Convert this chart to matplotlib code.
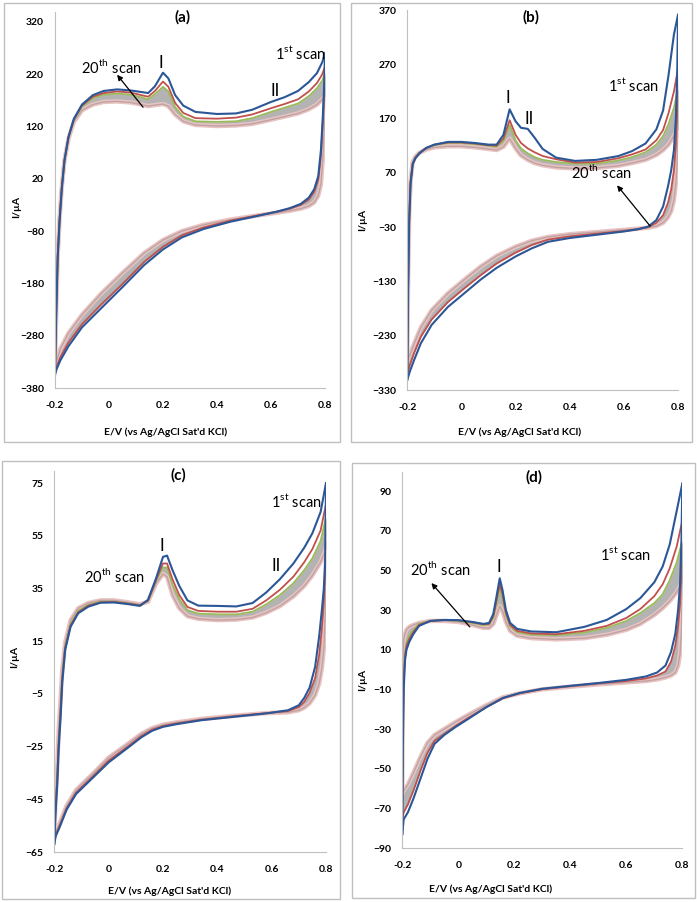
import matplotlib
matplotlib.use("Agg")
import matplotlib.pyplot as plt
from matplotlib.patches import Rectangle

plt.rcParams['font.family'] = ['Lato', 'DejaVu Sans']
plt.rcParams['mathtext.fontset'] = 'custom'
plt.rcParams['mathtext.rm'] = 'Lato'

# ---------------- panel (a) ----------------
E_fwd_a = [-0.2, -0.195, -0.19, -0.183, -0.175, -0.165, -0.15, -0.13, -0.1, -0.06, -0.02, 0.03, 0.08, 0.12,
           0.145, 0.17, 0.2, 0.22, 0.245, 0.275, 0.32, 0.4, 0.47, 0.53, 0.6, 0.65, 0.7, 0.74, 0.77, 0.79, 0.8]
a_fwd_1 = [-355, -230, -130, -60, 0, 55, 100, 135, 162, 180, 188, 191, 189, 186,
           184, 197, 223, 212, 180, 160, 148, 144, 145, 152, 167, 176, 188, 205, 222, 243, 260]
a_fwd_2 = [-350, -227, -128, -58, 2, 55, 100, 134, 160, 177, 184, 187, 185, 180,
           177, 188, 206, 196, 165, 146, 136, 135, 137, 143, 155, 163, 172, 187, 203, 220, 235]
a_fwd_3 = [-348, -225, -127, -57, 3, 55, 99, 133, 158, 174, 181, 183, 181, 176,
           172, 182, 196, 187, 157, 139, 130, 129, 130, 136, 148, 156, 164, 178, 193, 208, 222]
a_fwd_20 = [-345, -222, -125, -55, 4, 55, 97, 129, 151, 162, 167, 168, 166, 162,
            159, 161, 163, 159, 143, 130, 123, 121, 122, 125, 133, 139, 145, 153, 162, 172, 178]
E_rev_a = [0.8, 0.797, 0.792, 0.785, 0.775, 0.76, 0.74, 0.71, 0.67, 0.62, 0.55, 0.45, 0.35, 0.27,
           0.2, 0.13, 0.05, -0.03, -0.1, -0.15, -0.18, -0.195, -0.2]
a_rev_1 = [260, 200, 140, 75, 25, 0, -16, -28, -36, -43, -51, -62, -76, -92,
           -115, -145, -187, -228, -264, -300, -327, -345, -355]
a_rev_2 = [235, 185, 130, 65, 18, -5, -20, -30, -37, -43, -50, -60, -73, -88,
           -110, -139, -181, -221, -258, -293, -321, -340, -350]
a_rev_20 = [178, 120, 60, 10, -12, -25, -32, -37, -41, -45, -50, -58, -68, -80,
            -97, -122, -160, -200, -240, -275, -305, -330, -345]

# ---------------- panel (b) ----------------
E_fwd_b = [-0.2, -0.197, -0.193, -0.188, -0.18, -0.17, -0.155, -0.13, -0.1, -0.05, 0.0, 0.05, 0.1, 0.13,
           0.155, 0.178, 0.2, 0.22, 0.245, 0.27, 0.3, 0.35, 0.42, 0.5, 0.58, 0.63, 0.68, 0.72, 0.745,
           0.765, 0.785, 0.8]
b_fwd_1 = [-311, -150, -20, 50, 86, 97, 106, 116, 122, 127, 127, 125, 122, 122,
           140, 187, 165, 153, 151, 135, 114, 98, 92, 94, 101, 110, 124, 150, 185, 250, 325, 361]
b_fwd_2 = [-300, -140, -15, 52, 87, 98, 107, 116, 122, 126, 126, 124, 121, 120,
           133, 167, 140, 125, 115, 108, 101, 95, 89, 90, 97, 104, 113, 130, 149, 180, 220, 262]
b_fwd_3 = [-295, -135, -12, 53, 88, 99, 107, 116, 121, 125, 125, 123, 120, 118,
           128, 158, 130, 115, 106, 99, 94, 90, 87, 87, 93, 99, 108, 122, 138, 160, 190, 225]
b_fwd_20 = [-275, -120, -5, 55, 90, 100, 107, 113, 117, 119, 119, 117, 114, 112,
            118, 133, 115, 102, 94, 88, 84, 80, 78, 79, 83, 88, 94, 103, 112, 122, 138, 150]
E_rev_b = [0.8, 0.797, 0.792, 0.785, 0.775, 0.763, 0.745, 0.72, 0.69, 0.65, 0.6, 0.5, 0.4, 0.32,
           0.26, 0.2, 0.13, 0.07, 0.01, -0.05, -0.11, -0.15, -0.175, -0.19, -0.2]
b_rev_1 = [361, 250, 170, 112, 75, 45, 8, -17, -29, -34, -38, -44, -50, -57,
           -69, -84, -105, -127, -152, -177, -210, -244, -275, -295, -311]
b_rev_2 = [262, 180, 120, 75, 40, 15, -8, -22, -30, -34, -37, -42, -47, -53,
           -63, -77, -97, -119, -143, -168, -200, -232, -262, -283, -300]
b_rev_20 = [150, 90, 50, 20, 0, -12, -22, -28, -31, -33, -35, -39, -43, -48,
            -55, -66, -83, -103, -127, -152, -183, -215, -245, -265, -275]

# ---------------- panel (c) ----------------
E_fwd_c = [-0.2, -0.196, -0.189, -0.184, -0.177, -0.171, -0.16, -0.14, -0.112, -0.075, -0.03, 0.02, 0.07,
           0.115, 0.145, 0.175, 0.2, 0.215, 0.235, 0.26, 0.29, 0.33, 0.4, 0.47, 0.53, 0.58, 0.63, 0.68,
           0.72, 0.75, 0.78, 0.8]
c_fwd_1 = [-62, -51, -39, -26, -14, -1, 11.7, 20.5, 25.6, 28.1, 29.6, 29.7, 29.1,
           28.4, 30.7, 39, 47, 47.5, 42, 36, 30.5, 28.5, 28.4, 28.2, 29.5, 33.5, 38.5, 44.5,
           50.5, 56, 64, 75]
c_fwd_2 = [-61, -50, -37, -24, -12, 0.5, 12.5, 21, 26, 28.5, 29.8, 29.9, 29.3,
           28.6, 30.5, 38.5, 44.5, 44.5, 38.5, 32.5, 28, 26.5, 26.2, 26.2, 27.3, 30.5, 34.5, 39.5,
           45, 50, 57, 67]
c_fwd_3 = [-60.5, -49, -36, -23, -11, 1.5, 13, 21.5, 26.5, 28.8, 30, 30, 29.4,
           28.7, 30.3, 38, 43, 43, 36.5, 31, 26.8, 25.5, 25.2, 25.2, 26.2, 29, 32.5, 37,
           42, 46.5, 53, 62]
c_fwd_20 = [-59, -46, -32, -19, -7, 4, 14.5, 23, 27.5, 29.5, 30.5, 30.5, 29.8,
            29, 30, 37, 40.5, 39.5, 32.5, 27.5, 24.5, 23.5, 23, 23.2, 24, 25.8, 28.3, 32,
            36, 40, 45, 50]
E_rev_c = [0.8, 0.797, 0.792, 0.785, 0.775, 0.76, 0.74, 0.72, 0.7, 0.66, 0.58, 0.46, 0.34, 0.25,
           0.2, 0.16, 0.12, 0.07, 0.0, -0.06, -0.12, -0.155, -0.18, -0.195, -0.2]
c_rev_1 = [75, 45, 35, 27, 17, 5.3, -2.5, -6.5, -9.3, -11.2, -12.4, -13.7, -15, -16.5,
           -17.5, -19, -21.5, -25.5, -31, -37, -43, -49, -55.5, -59, -62]
c_rev_2 = [67, 42, 30, 20, 10, 1, -4.5, -8, -10, -11.5, -12.3, -13.5, -14.8, -16.2,
           -17.2, -18.6, -21, -25, -30.3, -36.5, -42.5, -48.5, -55, -58.5, -61]
c_rev_20 = [50, 25, 12, 5, -1, -5.5, -8.5, -10.2, -11.2, -12, -12.3, -13.3, -14.5, -15.8,
            -16.7, -18, -20.2, -24, -29.2, -35.5, -41.5, -47.5, -54, -57.5, -59]

# ---------------- panel (d) ----------------
E_fwd_d = [-0.2, -0.198, -0.195, -0.19, -0.185, -0.175, -0.16, -0.14, -0.1, -0.05, 0.0, 0.05, 0.09, 0.11,
           0.125, 0.138, 0.148, 0.158, 0.17, 0.185, 0.21, 0.26, 0.35, 0.45, 0.53, 0.6, 0.65, 0.7,
           0.73, 0.755, 0.78, 0.8]
d_fwd_1 = [-83, -40, -10, 5, 10, 14, 18, 22, 24.5, 25, 24.9, 24, 23, 23.5,
           28, 38, 46, 40, 30, 23.5, 20.5, 19.2, 18.8, 21.5, 25, 30.5, 36, 44,
           52, 63, 80, 93.7]
d_fwd_2 = [-75, -30, -5, 7, 12, 15.5, 19, 22.5, 24.5, 25, 24.8, 23.8, 22.8, 23,
           27, 36, 43, 38, 28.5, 22.5, 19.5, 18.2, 17.8, 19.5, 22, 26, 30.5, 37,
           43, 51, 62, 75]
d_fwd_3 = [-70, -25, -2, 9, 13.5, 17, 20, 23, 24.5, 25, 24.6, 23.5, 22.4, 22.6,
           26, 34, 41, 36, 27.5, 21.8, 18.8, 17.6, 17.3, 18.6, 21, 24.5, 28.5, 33.5,
           38, 45, 54, 65]
d_fwd_20 = [-62, 5, 15, 18, 20, 21.5, 22.5, 23.5, 24.5, 24.5, 24, 22.5, 21, 21,
            23, 28, 32, 29.5, 24, 19.5, 17, 15.8, 15.2, 15.8, 17.5, 20, 23, 27.5,
            31, 34.5, 39, 44]
E_rev_d = [0.8, 0.797, 0.792, 0.785, 0.775, 0.76, 0.74, 0.71, 0.67, 0.6, 0.5, 0.4, 0.3, 0.22,
           0.16, 0.1, 0.04, -0.01, -0.05, -0.085, -0.11, -0.135, -0.16, -0.18, -0.195, -0.2]
d_rev_1 = [93.7, 65, 43, 30, 18, 9, 2, -1.5, -3.5, -5.2, -6.8, -8.2, -9.7, -11.8,
           -14.3, -19, -24.5, -29, -33, -37.5, -45, -55, -65, -72, -75.5, -83]
d_rev_2 = [75, 50, 33, 22, 12, 4, -1, -3, -4.5, -5.8, -7, -8.4, -9.9, -12,
           -14.5, -19, -24, -28.5, -32.5, -36, -42, -51, -61, -68, -72, -75]
d_rev_20 = [44, 20, 8, 2, -1.5, -3, -4, -5, -5.8, -6.5, -7.5, -8.7, -10, -12,
            -14, -18, -22.5, -26.5, -30, -33, -37, -44, -52, -58, -61, -62]

x_ticks = [-0.2, 0, 0.2, 0.4, 0.6, 0.8]
x_tick_labels = ['-0.2', '0', '0.2', '0.4', '0.6', '0.8']
y_ticks_a = [-380, -280, -180, -80, 20, 120, 220, 320]
y_ticks_b = [-330, -230, -130, -30, 70, 170, 270, 370]
y_ticks_c = [-65, -45, -25, -5, 15, 35, 55, 75]
y_ticks_d = [-90, -70, -50, -30, -10, 10, 30, 50, 70, 90]

W, H = 697, 902
fig = plt.figure(figsize=(W / 100, H / 100), dpi=100)


def fx(x):
    return x / W


def fy(y):
    return 1 - y / H


def panel(left, right, top, bottom, ylim, yticks,
          E_f, f1, f2, f3, f20, E_r, r1, r2, r20):
    ax = fig.add_axes([fx(left), fy(bottom), (right - left) / W, (bottom - top) / H])
    band = '#b3b3b3'
    ax.fill_between(E_f, f3, f20, color=band, lw=0)
    ax.fill_between(E_r, r2, r20, color=band, lw=0)
    for E, I in [(E_f, f20), (E_r, r20)]:
        ax.plot(E, I, color='#e8c3c2', lw=3.2, solid_joinstyle='round')
        ax.plot(E, I, color='#bfa3a3', lw=1.0)
    ax.plot(E_f, f3, color='#9bbb59', lw=1.3)
    ax.plot(E_f, f2, color='#c0504d', lw=1.3)
    ax.plot(E_r, r2, color='#c0504d', lw=1.3)
    ax.plot(E_f, f1, color='#2b5797', lw=1.5)
    ax.plot(E_r, r1, color='#2b5797', lw=1.5)
    ax.set_xlim(-0.2, 0.8)
    ax.set_ylim(*ylim)
    ax.set_xticks(x_ticks)
    ax.set_xticklabels(x_tick_labels)
    ax.set_yticks(yticks)
    for s in ['top', 'right']:
        ax.spines[s].set_visible(False)
    for s in ['left', 'bottom']:
        ax.spines[s].set_color('#bfbfbf')
        ax.spines[s].set_linewidth(0.8)
    ax.tick_params(axis='y', length=0, pad=8, labelsize=7.5)
    ax.tick_params(axis='x', length=0, pad=9, labelsize=7.5)
    for lab in ax.get_xticklabels() + ax.get_yticklabels():
        lab.set_fontweight('bold')
    return ax


def frame(x0, y0, x1, y1):
    fig.patches.append(Rectangle((fx(x0), fy(y1)), (x1 - x0) / W, (y1 - y0) / H,
                                 transform=fig.transFigure, fill=False,
                                 edgecolor='#bfbfbf', lw=1.0))


frame(4, 3, 340, 442)
frame(351, 3, 692, 442)
frame(2, 461, 340, 899)
frame(352, 463, 695, 898)

axa = panel(55, 325, 12, 388, (-380, 339), y_ticks_a,
            E_fwd_a, a_fwd_1, a_fwd_2, a_fwd_3, a_fwd_20, E_rev_a, a_rev_1, a_rev_2, a_rev_20)
axb = panel(407.3, 678, 10, 390, (-330, 370), y_ticks_b,
            E_fwd_b, b_fwd_1, b_fwd_2, b_fwd_3, b_fwd_20, E_rev_b, b_rev_1, b_rev_2, b_rev_20)
axc = panel(54.3, 326, 471, 852, (-65, 79.6), y_ticks_c,
            E_fwd_c, c_fwd_1, c_fwd_2, c_fwd_3, c_fwd_20, E_rev_c, c_rev_1, c_rev_2, c_rev_20)
axd = panel(402.3, 682.3, 472, 848, (-90, 99.6), y_ticks_d,
            E_fwd_d, d_fwd_1, d_fwd_2, d_fwd_3, d_fwd_20, E_rev_d, d_rev_1, d_rev_2, d_rev_20)

xlab = "E/V (vs Ag/AgCl Sat'd KCl)"
for (tx, ty), (lx, ly), (yx, yy), name in [((183, 17), (166, 432), (17, 207), '(a)'),
                                            ((531, 17), (520, 432), (363, 220), '(b)'),
                                            ((178, 475), (170, 891), (15, 657), '(c)'),
                                            ((534, 477), (491, 889), (363, 680), '(d)')]:
    fig.text(fx(tx), fy(ty), name, ha='center', va='center', fontsize=11, fontweight='bold')
    fig.text(fx(lx), fy(ly), xlab, ha='center', va='center', fontsize=7.5, fontweight='bold')
    fig.text(fx(yx), fy(yy), 'I/µA', ha='center', va='center', rotation=90,
             fontsize=7.5, fontweight='bold')

s20 = r'20$^{\mathrm{th}}$ scan'
s1 = r'1$^{\mathrm{st}}$ scan'
arrow = dict(arrowstyle='-|>', color='black', lw=0.9, mutation_scale=8, shrinkA=0, shrinkB=0)
tk = dict(ha='center', va='center', fontsize=10.5)
rk = dict(ha='center', va='center', fontsize=12)

axa.text(0.007, 234, s20, **tk)
axa.text(0.193, 241, 'I', **rk)
axa.text(0.615, 188, 'II', **rk)
axa.text(0.707, 261, s1, **tk)
axa.annotate('', xy=(0.03, 219), xytext=(0.126, 157), arrowprops=arrow)

axb.text(0.516, 72, s20, **tk)
axb.text(0.634, 232, s1, **tk)
axb.text(0.172, 208, 'I', **rk)
axb.text(0.25, 170, 'II', **rk)
axb.annotate('', xy=(0.575, 47), xytext=(0.697, -28), arrowprops=arrow)

axc.text(0.02, 39.7, s20, **tk)
axc.text(0.195, 51.3, 'I', **rk)
axc.text(0.616, 43.5, 'II', **rk)
axc.text(0.69, 68.3, s1, **tk)

axd.text(-0.066, 50.5, s20, **tk)
axd.text(0.144, 51.5, 'I', **rk)
axd.text(0.596, 58.4, s1, **tk)
axd.annotate('', xy=(-0.096, 43.6), xytext=(0.041, 21.5), arrowprops=arrow)

fig.savefig('out.png', dpi=100)
